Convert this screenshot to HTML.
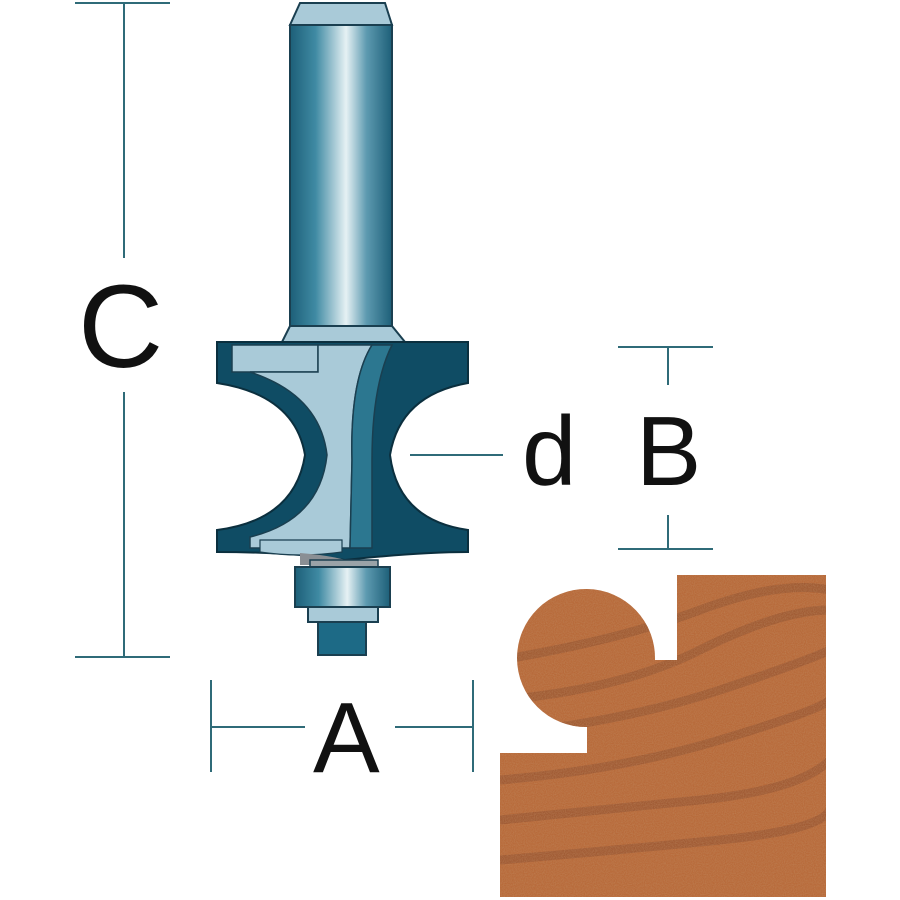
<!DOCTYPE html>
<html><head><meta charset="utf-8"><style>html,body{margin:0;padding:0;background:#fff}svg{display:block}</style></head>
<body>
<svg width="900" height="900" viewBox="0 0 900 900" xmlns="http://www.w3.org/2000/svg">
<defs>
<linearGradient id="cyl" x1="0" x2="1" y1="0" y2="0">
<stop offset="0" stop-color="#1d5f78"/><stop offset="0.25" stop-color="#3f8aa3"/><stop offset="0.55" stop-color="#e6f1f4"/><stop offset="0.75" stop-color="#5d9ab0"/><stop offset="1" stop-color="#1d5f78"/>
</linearGradient>
<filter id="grain"><feTurbulence type="fractalNoise" baseFrequency="0.9 0.9" numOctaves="2" seed="3"/><feColorMatrix type="matrix" values="0 0 0 0 0.55  0 0 0 0 0.3  0 0 0 0 0.15  0 0 0 1.2 -0.35"/></filter>
<clipPath id="woodclip"><path d="M677 575 H826 V897 H500 V753 H587 V727 A69 69 0 1 1 655 660 H677 Z"/></clipPath>
</defs>
<g stroke="#2f6b78" stroke-width="2" fill="none">
<line x1="75" y1="3" x2="170" y2="3"/><line x1="75" y1="657" x2="170" y2="657"/>
<line x1="124" y1="3" x2="124" y2="258"/><line x1="124" y1="392" x2="124" y2="657"/>
<line x1="211" y1="680" x2="211" y2="772"/><line x1="473" y1="680" x2="473" y2="772"/>
<line x1="211" y1="727" x2="305" y2="727"/><line x1="395" y1="727" x2="473" y2="727"/>
<line x1="618" y1="347" x2="713" y2="347"/><line x1="618" y1="549" x2="713" y2="549"/>
<line x1="668" y1="347" x2="668" y2="385"/><line x1="668" y1="515" x2="668" y2="549"/>
<line x1="410" y1="455" x2="503" y2="455"/>
</g>
<g font-family="Liberation Sans, sans-serif" fill="#111">
<text x="78" y="367" font-size="118">C</text>
<text x="313" y="772" font-size="100">A</text>
<text x="636" y="485" font-size="98">B</text>
<text x="522" y="485" font-size="98">d</text>
</g>
<!-- shank -->
<path d="M300 3 H385 L392 25 H290 Z" fill="#a9cad8" stroke="#1a3f50" stroke-width="2"/>
<rect x="290" y="25" width="102" height="302" fill="url(#cyl)" stroke="#1a3f50" stroke-width="2"/>
<path d="M290 326 H392 L405 342 H282 Z" fill="#a9cad8" stroke="#1a3f50" stroke-width="2"/>
<!-- body -->
<path d="M217 342 H468 V383 Q400 395 390 455 Q398 520 468 530 V552 Q420 552 345 560 Q290 552 217 552 V530 Q295 520 305 455 Q295 395 217 383 Z" fill="#0f4c64" stroke="#0b2f3e" stroke-width="2"/>
<path d="M232 345 H318 V372 H232 Z" fill="#a9cad8" stroke="#1a3f50" stroke-width="1.5"/>
<path d="M250 372 H318 V345 H372 Q350 380 352 460 L350 548 H250 V537 Q320 520 327 455 Q320 395 250 372 Z" fill="#a9cad8" stroke="#1a3f50" stroke-width="1.5"/>
<path d="M372 345 H392 Q372 385 372 460 V548 H350 L352 460 Q350 380 372 345 Z" fill="#2c7790" stroke="#1a3f50" stroke-width="1.5"/>
<path d="M260 540 H342 V552 Q300 558 260 552 Z" fill="#a9cad8" stroke="#1a3f50" stroke-width="1.2"/>
<path d="M300 553 Q340 556 360 565 H300 Z" fill="#8a8f94"/>
<!-- bearing -->
<rect x="310" y="560" width="68" height="7" fill="#9aa3a8" stroke="#1a3f50" stroke-width="1.5"/>
<rect x="295" y="567" width="95" height="40" fill="url(#cyl)" stroke="#1a3f50" stroke-width="2"/>
<rect x="308" y="607" width="70" height="15" fill="#a9cad8" stroke="#1a3f50" stroke-width="2"/>
<rect x="318" y="622" width="48" height="33" fill="#1d6a86" stroke="#1a3f50" stroke-width="2"/>
<!-- wood -->
<g clip-path="url(#woodclip)">
<rect x="490" y="570" width="340" height="330" fill="#b86a3a"/>
<g fill="none" stroke="#8f5030" stroke-width="9" opacity="0.55">
<path d="M500 700 Q620 690 700 650 T830 610"/>
<path d="M500 735 Q630 720 720 690 T830 650"/>
<path d="M500 780 Q620 770 720 740 T830 700"/>
<path d="M500 820 Q600 810 700 800 T830 760"/>
<path d="M500 860 Q620 850 720 840 T830 810"/>
<path d="M500 660 Q620 640 700 610 T830 590"/>
</g>
<rect x="490" y="570" width="340" height="330" filter="url(#grain)" opacity="0.6"/>
</g>
</svg>
</body></html>
